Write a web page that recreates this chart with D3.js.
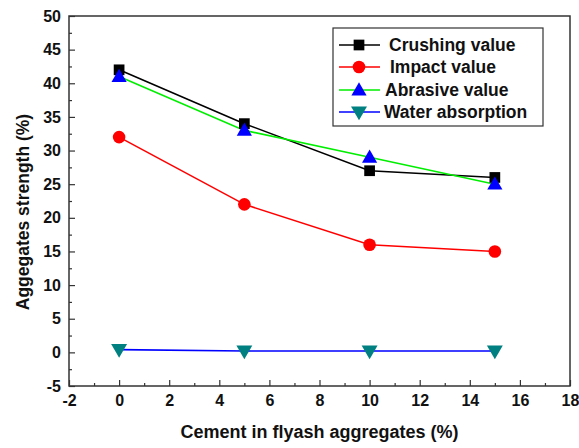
<!DOCTYPE html>
<html><head><meta charset="utf-8">
<script src="https://cdn.jsdelivr.net/npm/d3@7"></script>
<style>body{margin:0;background:#fff}text{font-family:"Liberation Sans",Arial,sans-serif;font-weight:bold}</style>
</head><body><svg id="c" width="579" height="448"></svg>
<script>
const xValues = [0, 5, 10, 15];
const crushing = [42, 34, 27, 26];
const impact = [32, 22, 16, 15];
const abrasive = [41, 33, 29, 25];
const water = [0.4, 0.2, 0.2, 0.2];
const xTicks = [-2,0,2,4,6,8,10,12,14,16,18];
const yTicks = [-5,0,5,10,15,20,25,30,35,40,45,50];
const seriesNames = ["Crushing value","Impact value","Abrasive value","Water absorption"];

const svg = d3.select("#c");
const L=69,R=570,T=16,B=386;
const x = d3.scaleLinear().domain([-2,18]).range([L,R]);
const y = d3.scaleLinear().domain([-5,50]).range([B,T]);
const fmt = d => String(d);

// frame
svg.append("rect").attr("x",L).attr("y",T).attr("width",R-L).attr("height",B-T).attr("fill","none").attr("stroke","#333").attr("stroke-width",1.5);

// x axis
const gx = svg.append("g").attr("transform",`translate(0,${B})`);
gx.call(d3.axisBottom(x).tickValues(xTicks).tickSize(-6).tickPadding(9).tickFormat(fmt));
gx.append("g").call(d3.axisBottom(x).tickValues(d3.range(-1,18,2)).tickSize(-3).tickFormat(""));
// y axis
const gy = svg.append("g").attr("transform",`translate(${L},0)`);
gy.call(d3.axisLeft(y).tickValues(yTicks).tickSize(-6).tickPadding(8).tickFormat(fmt));
gy.append("g").call(d3.axisLeft(y).tickValues(d3.range(-2.5,50,5)).tickSize(-3).tickFormat(""));
svg.selectAll(".domain").remove();
svg.selectAll(".tick line").attr("stroke","#333").attr("stroke-width",1.2);
svg.selectAll(".tick text").attr("font-size",16).attr("fill","#111").style("font-family","Liberation Sans, Arial, sans-serif").style("font-weight","bold");

// titles
svg.append("text").attr("x",(L+R)/2).attr("y",438).attr("text-anchor","middle").attr("font-size",18).attr("fill","#111").text("Cement in flyash aggregates (%)");
svg.append("text").attr("transform",`translate(29,${212}) rotate(-90)`).attr("text-anchor","middle").attr("font-size",17.5).attr("fill","#111").text("Aggegates strength (%)");

const series = [
  {name:seriesNames[0], vals:crushing, line:"#000", fill:"#000", sym:d3.symbolSquare, size:115, rot:0},
  {name:seriesNames[1], vals:impact, line:"#ff0000", fill:"#ff0000", sym:d3.symbolCircle, size:125, rot:0},
  {name:seriesNames[2], vals:abrasive, line:"#00ee00", fill:"#0000ff", sym:d3.symbolTriangle, size:100, rot:0},
  {name:seriesNames[3], vals:water, line:"#0000ff", fill:"#008080", sym:d3.symbolTriangle, size:110, rot:180}
];
const lineGen = d3.line().x((d,i)=>x(xValues[i])).y(d=>y(d));
series.forEach(s=>{
  svg.append("path").attr("d",lineGen(s.vals)).attr("fill","none").attr("stroke",s.line).attr("stroke-width",1.6);
});
series.forEach(s=>{
  svg.selectAll(null).data(s.vals).enter().append("path")
    .attr("d",d3.symbol().type(s.sym).size(s.size))
    .attr("transform",(d,i)=>`translate(${x(xValues[i])},${y(d)+(s.sym===d3.symbolTriangle?(s.rot?-1:1):0)}) rotate(${s.rot})`)
    .attr("fill",s.fill);
});

// legend
svg.append("rect").attr("x",333).attr("y",28).attr("width",210).attr("height",98).attr("fill","#fff").attr("stroke","#333").attr("stroke-width",1.2);
const ly=[45,67,90,112], tx=[389,390,385,384];
series.forEach((s,i)=>{
  svg.append("line").attr("x1",339).attr("x2",380).attr("y1",ly[i]).attr("y2",ly[i]).attr("stroke",s.line).attr("stroke-width",1.6);
  svg.append("path").attr("d",d3.symbol().type(s.sym).size(s.size)).attr("transform",`translate(359,${ly[i]+(s.sym===d3.symbolTriangle?(s.rot?-1:1):0)}) rotate(${s.rot})`).attr("fill",s.fill);
  svg.append("text").attr("x",tx[i]).attr("y",ly[i]+6).attr("font-size",17.5).attr("fill","#111").text(s.name);
});
</script></body></html>
